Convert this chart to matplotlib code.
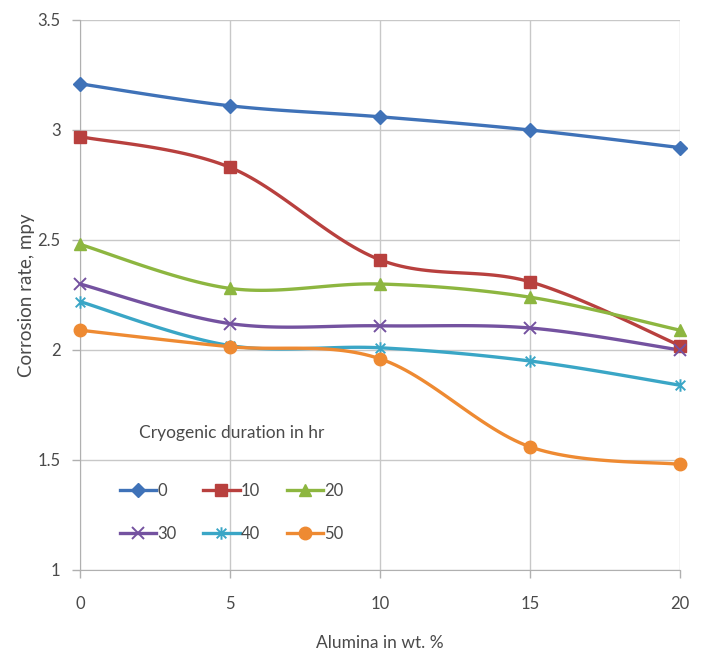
import numpy as np
import matplotlib
matplotlib.use("Agg")
import matplotlib.pyplot as plt
from matplotlib.lines import Line2D
from matplotlib.path import Path

alumina = [0, 5, 10, 15, 20]
durations = ["0", "10", "20", "30", "40", "50"]
rate_0 = [3.21, 3.11, 3.06, 3.00, 2.92]
rate_10 = [2.97, 2.83, 2.41, 2.31, 2.02]
rate_20 = [2.48, 2.28, 2.30, 2.24, 2.09]
rate_30 = [2.30, 2.12, 2.11, 2.10, 2.00]
rate_40 = [2.22, 2.02, 2.01, 1.95, 1.84]
rate_50 = [2.09, 2.015, 1.96, 1.56, 1.48]
series = [rate_0, rate_10, rate_20, rate_30, rate_40, rate_50]

colors = ["#3F72B8", "#B8403E", "#8DB640", "#7452A0", "#3AA6C6", "#EE8A32"]
star_path = Path([(-1, -1), (1, 1), (-1, 1), (1, -1), (0, -1.3), (0, 1.3)],
                 [Path.MOVETO, Path.LINETO, Path.MOVETO, Path.LINETO, Path.MOVETO, Path.LINETO])
markers = ["D", "s", "^", "x", star_path, "o"]
msizes = [7, 9, 9, 9, 9, 9]

def smooth(x, y, n=30):
    # Excel-style smoothed line (Catmull-Rom Bezier through the data points)
    x = np.asarray(x, float); y = np.asarray(y, float)
    P = np.column_stack([x, y])
    out = [P[0]]
    for i in range(len(P) - 1):
        p0 = P[i - 1] if i > 0 else P[i]
        p1 = P[i]; p2 = P[i + 1]
        p3 = P[i + 2] if i + 2 < len(P) else P[i + 1]
        c1 = p1 + (p2 - p0) / 6.0
        c2 = p2 - (p3 - p1) / 6.0
        t = np.linspace(0, 1, n)[1:, None]
        B = ((1 - t) ** 3) * p1 + 3 * ((1 - t) ** 2) * t * c1 + 3 * (1 - t) * t ** 2 * c2 + t ** 3 * p2
        out.extend(B)
    out = np.array(out)
    return out[:, 0], out[:, 1]

plt.rcParams['font.family'] = ['Lato', 'DejaVu Sans']
fig = plt.figure(figsize=(7.01, 6.56), dpi=100)
ax = fig.add_axes([80 / 701, 1 - 570 / 656, 600 / 701, 550 / 656])

grid_c = "#C8C8C8"
txt_c = "#4A4A4A"
handles = []
for ys, c, m, ms, lab in zip(series, colors, markers, msizes, durations):
    sx, sy = smooth(alumina, ys)
    ax.plot(sx, sy, color=c, lw=2.4, zorder=3, solid_capstyle="round")
    is_line = not isinstance(m, str) or m == "x"
    mew = 1.4 if is_line else 1
    ax.plot(alumina, ys, ls="none", marker=m, color=c, ms=ms, mew=mew, zorder=4, clip_on=False)
    handles.append(Line2D([], [], color=c, lw=2.4, marker=m, ms=ms, mew=mew, label=lab))

ax.set_xlim(0, 20)
ax.set_ylim(1, 3.5)
ax.set_xticks(alumina)
ax.set_yticks([1, 1.5, 2, 2.5, 3, 3.5])
ax.set_yticklabels(["1", "1.5", "2", "2.5", "3", "3.5"])
ax.grid(True, color=grid_c, lw=1)
ax.set_axisbelow(True)
for s in ["top", "right"]:
    ax.spines[s].set_visible(False)
for s in ["left", "bottom"]:
    ax.spines[s].set_color("#B0B0B0")
ax.tick_params(colors="#B0B0B0", labelcolor=txt_c, labelsize=12, length=6, width=1)
ax.tick_params(axis="x", pad=13)
ax.tick_params(axis="y", pad=8)
ax.set_xlabel("Alumina in wt. %", fontsize=12.5, color=txt_c, labelpad=16)
ax.set_ylabel("Corrosion rate, mpy", fontsize=13.5, color=txt_c, labelpad=2)

order = [0, 3, 1, 4, 2, 5]
leg = ax.legend(handles=[handles[i] for i in order], ncol=3, frameon=False,
                title="Cryogenic duration in hr",
                loc="upper left", bbox_to_anchor=(0.055, 0.276), fontsize=12,
                title_fontsize=12.5, handlelength=2.2, handletextpad=0.05,
                columnspacing=1.6, labelspacing=1.65, borderaxespad=0)
leg.get_title().set_color(txt_c)
leg._legend_box.sep = 30
for t in leg.get_texts():
    t.set_color(txt_c)

fig.savefig("out.png", dpi=100)
